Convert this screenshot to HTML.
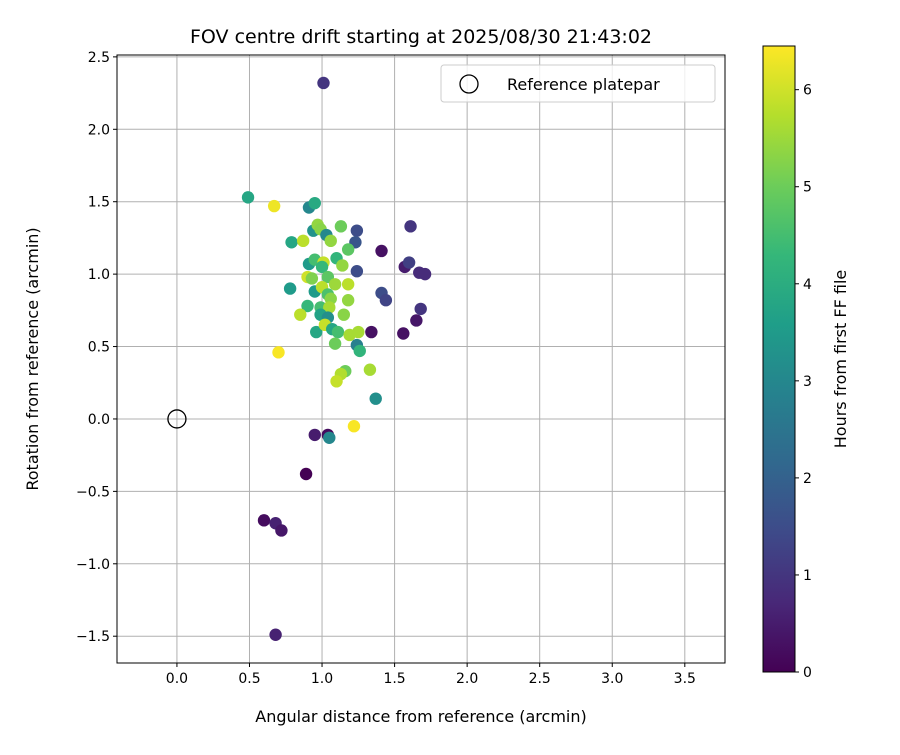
<!DOCTYPE html>
<html><head><meta charset="utf-8"><style>
body{margin:0;background:#fff;}
svg text{font-family:"DejaVu Sans","Liberation Sans",sans-serif;fill:#000;}
</style></head><body>
<svg id="c" width="900" height="750" xmlns="http://www.w3.org/2000/svg"></svg>
<script>
const xs=[1.01,0.49,0.67,0.91,0.95,0.94,0.97,0.99,1.03,1.13,1.24,1.23,1.41,1.61,0.79,0.87,1.06,1.18,0.91,0.95,1.01,1.00,1.10,1.14,1.24,1.57,1.60,1.67,1.71,0.90,0.93,1.04,1.09,1.18,0.78,0.95,1.00,1.04,1.06,1.18,1.41,1.44,0.90,0.99,1.05,1.68,0.85,0.99,1.04,1.15,1.65,0.96,1.02,1.07,1.11,1.09,1.19,1.25,1.24,1.26,1.34,1.56,0.70,1.16,1.13,1.10,1.33,1.37,1.22,0.95,1.04,1.05,0.89,0.60,0.68,0.72,0.68];
const ys=[2.32,1.53,1.47,1.46,1.49,1.30,1.34,1.31,1.27,1.33,1.30,1.22,1.16,1.33,1.22,1.23,1.23,1.17,1.07,1.10,1.08,1.05,1.11,1.06,1.02,1.05,1.08,1.01,1.00,0.98,0.97,0.98,0.93,0.93,0.90,0.88,0.91,0.86,0.83,0.82,0.87,0.82,0.78,0.77,0.77,0.76,0.72,0.72,0.70,0.72,0.68,0.60,0.65,0.62,0.60,0.52,0.58,0.60,0.51,0.47,0.60,0.59,0.46,0.33,0.31,0.26,0.34,0.14,-0.05,-0.11,-0.11,-0.13,-0.38,-0.70,-0.72,-0.77,-1.49];
const hours=[1.0,3.8,6.3,3.0,3.9,3.3,5.4,5.3,3.0,5.0,1.5,1.7,0.3,1.0,3.8,5.8,5.4,4.8,3.5,4.5,5.9,4.3,4.2,5.4,1.5,0.5,1.2,0.8,0.8,6.0,5.2,4.8,5.5,5.8,3.5,3.5,5.8,4.6,5.3,5.4,1.5,1.3,4.3,4.5,5.6,1.0,5.8,3.7,3.2,5.3,0.4,3.8,5.9,3.8,4.5,5.0,5.6,5.6,2.8,4.2,0.3,0.3,6.4,5.0,5.7,5.9,5.6,3.2,6.4,0.5,0.2,3.0,0.0,0.2,0.6,0.4,0.6];
const xTicks=[0.0,0.5,1.0,1.5,2.0,2.5,3.0,3.5];
const yTicks=[-1.5,-1.0,-0.5,0.0,0.5,1.0,1.5,2.0,2.5];
const cTicks=[0,1,2,3,4,5,6];
const X0=117,X1=725,Y0=55,Y1=663,XMIN=-0.413,XMAX=3.777,YMIN=-1.685,YMAX=2.513;
const CB={x:763,w:32,top:46,bot:672,max:6.45};
const sx=v=>X0+(v-XMIN)/(XMAX-XMIN)*(X1-X0);
const sy=v=>Y1-(v-YMIN)/(YMAX-YMIN)*(Y1-Y0);
const cy=v=>CB.bot-v/CB.max*(CB.bot-CB.top);
const vir=[[68,1,84],[72,40,120],[62,74,137],[49,104,142],[38,130,142],[31,158,137],[53,183,121],[109,205,89],[180,222,44],[253,231,37]];
function col(h){let t=Math.max(0,Math.min(1,h/CB.max))*(vir.length-1);let i=Math.min(Math.floor(t),vir.length-2),f=t-i;const a=vir[i],b=vir[i+1];return `rgb(${a.map((v,k)=>Math.round(v+(b[k]-v)*f)).join(',')})`;}
const svg=document.getElementById('c');const NS='http://www.w3.org/2000/svg';
function el(t,at,txt){const e=document.createElementNS(NS,t);for(const k in at)e.setAttribute(k,at[k]);if(txt!==undefined)e.textContent=txt;svg.appendChild(e);return e;}
let e;
xTicks.forEach(v=>{e=el('line',{x1:sx(v),x2:sx(v),y1:Y0,y2:Y1,stroke:'#b0b0b0','stroke-width':1});


e=el('line',{x1:sx(v),x2:sx(v),y1:Y1,y2:Y1+4,stroke:'#000'});


e=el('text',{x:sx(v),y:Y1+20,'font-size':14,'text-anchor':'middle'},v.toFixed(1));

});
yTicks.forEach(v=>{const t=v<0?'\u2212'+Math.abs(v).toFixed(1):v.toFixed(1);
e=el('line',{x1:X0,x2:X1,y1:sy(v),y2:sy(v),stroke:'#b0b0b0','stroke-width':1});


e=el('line',{x1:X0-4,x2:X0,y1:sy(v),y2:sy(v),stroke:'#000'});


e=el('text',{x:X0-7,y:sy(v)+5,'font-size':14,'text-anchor':'end'},t);

});
xs.forEach((x,i)=>{e=el('circle',{cx:sx(x),cy:sy(ys[i]),r:6.2,fill:col(hours[i])});

});
e=el('circle',{cx:sx(0),cy:sy(0),r:9,fill:'none',stroke:'#000','stroke-width':1.3});


e=el('rect',{x:X0,y:Y0,width:X1-X0,height:Y1-Y0,fill:'none',stroke:'#000','stroke-width':1});


e=el('rect',{x:441,y:65,width:274,height:37,rx:3,fill:'#fff','fill-opacity':0.8,stroke:'#ccc'});


e=el('circle',{cx:469,cy:84,r:9,fill:'none',stroke:'#000','stroke-width':1.3});


e=el('text',{x:507,y:90,'font-size':16},'Reference platepar');


e=el('text',{x:421,y:43,'font-size':19,'text-anchor':'middle'},'FOV centre drift starting at 2025/08/30 21:43:02');


e=el('text',{x:421,y:722,'font-size':16,'text-anchor':'middle'},'Angular distance from reference (arcmin)');


e=el('text',{x:38,y:359,'font-size':16,'text-anchor':'middle',transform:'rotate(-90 38 359)'},'Rotation from reference (arcmin)');


const defs=el('defs',{});const g=document.createElementNS(NS,'linearGradient');g.setAttribute('id','vg');g.setAttribute('x1','0');g.setAttribute('y1','1');g.setAttribute('x2','0');g.setAttribute('y2','0');
vir.forEach((c,i)=>{const s=document.createElementNS(NS,'stop');s.setAttribute('offset',i/(vir.length-1));s.setAttribute('stop-color',`rgb(${c.join(',')})`);g.appendChild(s);});defs.appendChild(g);
e=el('rect',{x:CB.x,y:CB.top,width:CB.w,height:CB.bot-CB.top,fill:'url(#vg)',stroke:'#000','stroke-width':1});


cTicks.forEach(v=>{e=el('line',{x1:CB.x+CB.w,x2:CB.x+CB.w+4,y1:cy(v),y2:cy(v),stroke:'#000'});


e=el('text',{x:CB.x+CB.w+8,y:cy(v)+5,'font-size':14},String(v));

});
e=el('text',{x:846,y:359,'font-size':16,'text-anchor':'middle',transform:'rotate(-90 846 359)'},'Hours from first FF file');


</script>
</body></html>
